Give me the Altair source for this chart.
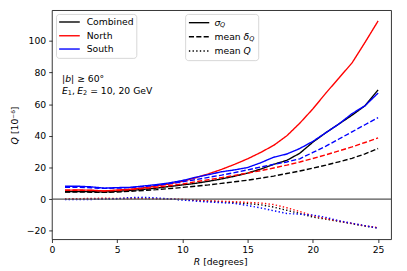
import altair as alt
import pandas as pd

R = list(range(1, 26))

sig_combined = [4.7, 4.8, 4.8, 4.5, 5.0, 5.5, 6.2, 7.0, 8.0, 9.0, 10.0, 11.3, 12.8, 14.5, 16.5, 19.0, 22.0, 24.5, 29.0, 36.0, 42.0, 47.5, 53.0, 59.0, 69.0]
sig_north = [5.7, 5.8, 5.7, 5.2, 5.8, 6.3, 7.2, 8.3, 9.6, 11.3, 13.5, 16.0, 18.8, 22.0, 25.5, 29.5, 34.0, 40.0, 48.0, 57.0, 67.0, 76.5, 86.0, 99.0, 112.5]
sig_south = [8.2, 8.2, 7.8, 7.0, 7.3, 7.5, 8.3, 9.2, 10.3, 11.8, 13.8, 15.5, 17.3, 18.5, 20.0, 23.0, 26.5, 28.5, 32.0, 36.5, 42.0, 47.5, 54.0, 59.0, 67.0]

dq_combined = [4.5, 4.5, 4.4, 4.3, 4.5, 5.0, 5.5, 6.0, 6.7, 7.4, 8.2, 9.0, 10.0, 11.0, 12.0, 13.3, 14.6, 16.2, 17.8, 19.6, 21.5, 23.6, 25.8, 28.6, 32.0]
dq_north = [5.7, 5.6, 5.5, 5.2, 5.5, 6.0, 6.7, 7.5, 8.5, 9.6, 11.0, 12.3, 13.6, 15.0, 16.5, 18.0, 19.7, 21.5, 23.5, 25.7, 28.0, 30.5, 33.0, 35.8, 38.7]
dq_south = [7.5, 7.5, 7.2, 6.8, 7.0, 7.3, 8.0, 8.8, 9.8, 11.0, 12.3, 13.8, 15.2, 16.8, 18.5, 20.3, 22.0, 23.5, 25.5, 29.5, 33.5, 38.0, 42.5, 47.0, 51.5]

mq_combined = [0.0, 0.0, 0.2, 0.3, 0.3, 0.5, 0.5, 0.3, 0.0, -0.3, -0.8, -1.2, -1.7, -2.2, -2.8, -3.5, -5.0, -7.0, -9.0, -11.3, -12.6, -14.0, -15.5, -17.0, -18.2]
mq_north = [0.2, 0.3, 0.5, 0.6, 0.5, 0.4, 0.4, 0.3, 0.2, 0.0, -0.6, -1.0, -1.3, -1.6, -2.0, -2.4, -3.4, -5.4, -7.8, -10.5, -12.2, -13.8, -15.3, -16.8, -18.0]
mq_south = [-0.3, -0.3, -0.2, 0.0, 0.3, 1.0, 1.2, 0.8, 0.2, -0.5, -1.2, -1.8, -2.2, -2.7, -4.0, -5.5, -7.3, -9.0, -9.5, -10.0, -11.5, -13.6, -15.2, -16.7, -18.3]

regions = ["Combined", "North", "South"]
region_colors = ["#000000", "#ff0000", "#0000ff"]
stats = ["sigma", "dq", "mq"]
stat_dashes = [[1, 0], [5.2, 2.3], [1.4, 2.3]]

x_ticks = [0, 5, 10, 15, 20, 25]
y_ticks = [-20, 0, 20, 40, 60, 80, 100]

series = {
    ("Combined", "sigma"): sig_combined, ("North", "sigma"): sig_north, ("South", "sigma"): sig_south,
    ("Combined", "dq"): dq_combined, ("North", "dq"): dq_north, ("South", "dq"): dq_south,
    ("Combined", "mq"): mq_combined, ("North", "mq"): mq_north, ("South", "mq"): mq_south,
}
rows = []
for (reg, st), vals in series.items():
    for r, q in zip(R, vals):
        rows.append({"R": r, "Q": q, "region": reg, "stat": st, "key": reg + st})
df = pd.DataFrame(rows)

FONT = "DejaVu Sans"
FS = 9.4
SUB = 6.6

one = pd.DataFrame({"a": [0]})


def txt(t, x, y, size=FS, italic=False, angle=0, color="black"):
    kw = dict(align="left", baseline="middle", font=FONT, fontSize=size, color=color, text=t)
    if italic:
        kw["fontStyle"] = "italic"
    if angle:
        kw["angle"] = angle
    return alt.Chart(one).mark_text(**kw).encode(x=alt.value(x), y=alt.value(y))


def seg(x1, x2, y, color="black", dash=None):
    kw = dict(color=color, strokeWidth=1.4)
    if dash:
        kw["strokeDash"] = dash
    return alt.Chart(one).mark_rule(**kw).encode(x=alt.value(x1), x2=alt.value(x2), y=alt.value(y))


def box(x1, x2, y1, y2):
    return alt.Chart(one).mark_rect(
        fill="white", fillOpacity=0.8, stroke="#cccccc", strokeWidth=0.8, cornerRadius=3
    ).encode(x=alt.value(x1), x2=alt.value(x2), y=alt.value(y1), y2=alt.value(y2))


axis_common = dict(title=None, labelOverlap=False, labelFlush=False, labelBound=False,
                   tickCount=len(y_ticks))

lines = alt.Chart(df).mark_line(strokeWidth=1.4).encode(
    x=alt.X("R:Q", scale=alt.Scale(domain=[0, 26], nice=False, zero=False),
            axis=alt.Axis(values=x_ticks, **axis_common)),
    y=alt.Y("Q:Q", scale=alt.Scale(domain=[-25.3, 119.3], nice=False, zero=False),
            axis=alt.Axis(values=y_ticks, **axis_common)),
    color=alt.Color("region:N", scale=alt.Scale(domain=regions, range=region_colors), legend=None),
    strokeDash=alt.StrokeDash("stat:N", scale=alt.Scale(domain=stats, range=stat_dashes), legend=None),
    detail="key:N",
)

zero = alt.Chart(pd.DataFrame({"Q": [0]})).mark_rule(color="#555555", strokeWidth=1.2).encode(y="Q:Q")

layers = [lines, zero]

# legend 1 (regions)
layers.append(box(4.6, 86.3, 4.3, 49.0))
leg1_y = [12.0, 26.0, 39.5]
for name, col, yy in zip(regions, region_colors, leg1_y):
    layers.append(seg(7.3, 28.3, yy, color=col))
    layers.append(txt(name, 35.3, yy))

# legend 2 (statistics)
layers.append(box(136.0, 210.3, 4.3, 51.3))
leg2_y = [12.7, 27.0, 41.5]
for dash, yy in zip(stat_dashes, leg2_y):
    layers.append(seg(139.3, 160.0, yy, dash=None if dash == [1, 0] else dash))
lx = 165.3
layers += [txt("σ", lx, leg2_y[0], italic=True), txt("Q", lx + 5.7, leg2_y[0] + 2.6, size=SUB, italic=True)]
layers += [txt("mean", lx, leg2_y[1]), txt("δ", lx + 29.6, leg2_y[1], italic=True),
           txt("Q", lx + 35.3, leg2_y[1] + 2.6, size=SUB, italic=True)]
layers += [txt("mean", lx, leg2_y[2]), txt("Q", lx + 29.6, leg2_y[2], italic=True)]

# annotation
ax = 10.3
layers += [txt("|", ax, 70.0), txt("b", ax + 3.2, 70.0, italic=True), txt("| ≥ 60°", ax + 9.2, 70.0)]
layers += [txt("E", ax, 82.0, italic=True), txt("1", ax + 5.9, 84.5, size=SUB), txt(",", ax + 10.1, 82.0),
           txt("E", ax + 15.5, 82.0, italic=True), txt("2", ax + 21.4, 84.5, size=SUB),
           txt("= 10, 20 GeV", ax + 28.6, 82.0)]

# axis titles
layers += [txt("R", 144.3, 255.7, italic=True), txt("[degrees]", 153.8, 255.7)]
layers += [txt("Q", -37.7, 136.5, italic=True, angle=270), txt("[10⁻⁶]", -37.7, 126.0, angle=270)]

chart = alt.layer(*layers).properties(
    width=345, height=233,
    autosize=alt.AutoSizeParams(type="none"),
    padding={"left": 44.7, "top": 0, "right": 8, "bottom": 28},
).configure_view(stroke="black", strokeWidth=0.8).configure_axis(
    grid=False, domain=False, tickColor="black", tickWidth=0.8, tickSize=3.3,
    labelFont=FONT, labelFontSize=FS, labelColor="black", labelPadding=3,
)

chart.save("out.html", embed_options={"renderer": "svg", "actions": False})
